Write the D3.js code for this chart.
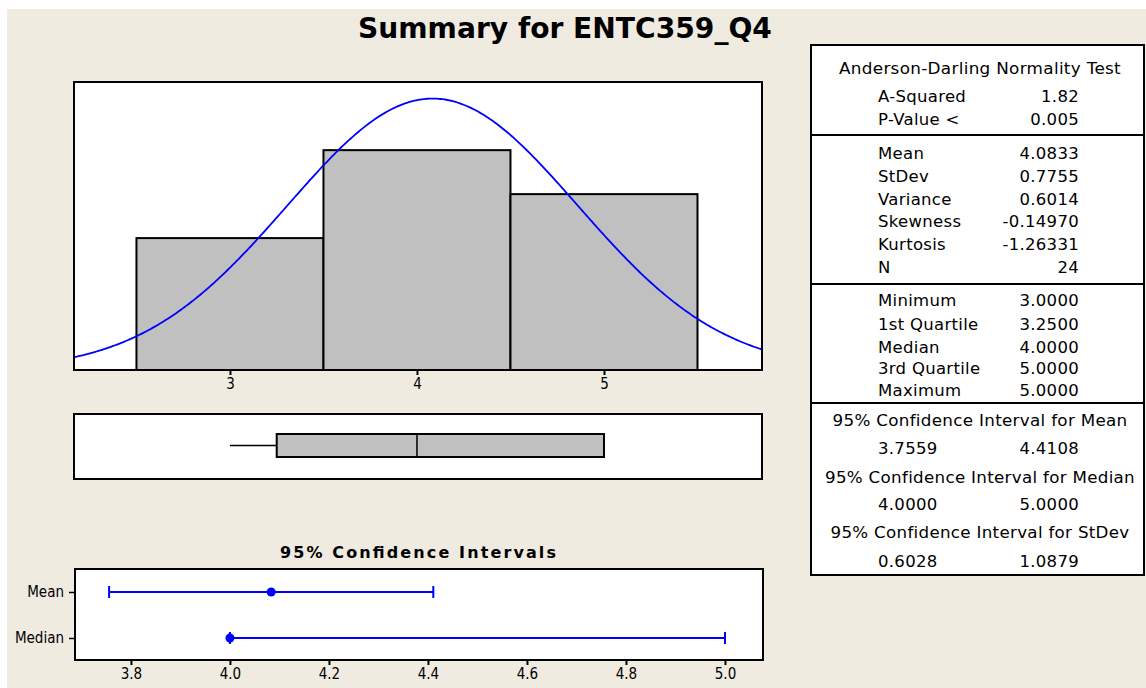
<!DOCTYPE html>
<html>
<head>
<meta charset="utf-8">
<script src="https://cdn.jsdelivr.net/npm/d3@7"></script>
<style>
  body { margin: 0; background: #fff; }
  svg { display: block; }
</style>
</head>
<body>
<div id="chart"></div>
<script>
// histogram data (bin centres, counts)
const binMids = [3, 4, 5];
const binCounts = [6, 10, 8];
const sampleMean = 4.0833;
const sampleStDev = 0.7755;
const sampleN = 24;
// boxplot: min, q1, median, q3, max
const fiveNum = [3.0, 3.25, 4.0, 5.0, 5.0];
const histTicks = [3, 4, 5];
// confidence intervals
const ciNames = ["Mean", "Median"];
const ciLow = [3.7559, 4.0];
const ciHigh = [4.4108, 5.0];
const ciPoint = [4.0833, 4.0];
const ciTicks = [3.8, 4.0, 4.2, 4.4, 4.6, 4.8, 5.0];
// stats table
const adLabels = ["A-Squared", "P-Value <"];
const adValues = ["1.82", "0.005"];
const momentLabels = ["Mean", "StDev", "Variance", "Skewness", "Kurtosis", "N"];
const momentValues = ["4.0833", "0.7755", "0.6014", "-0.14970", "-1.26331", "24"];
const quantLabels = ["Minimum", "1st Quartile", "Median", "3rd Quartile", "Maximum"];
const quantValues = ["3.0000", "3.2500", "4.0000", "5.0000", "5.0000"];
const ciHeaders = ["95% Confidence Interval for Mean", "95% Confidence Interval for Median", "95% Confidence Interval for StDev"];
const ciTableLow = ["3.7559", "4.0000", "0.6028"];
const ciTableHigh = ["4.4108", "5.0000", "1.0879"];

const W = 1146, H = 688;
const bg = "#efebe1";
const grey = "#c0c0c0";
const blue = "#0000ff";
const axisFont = "'DejaVu Sans Condensed', 'DejaVu Sans', sans-serif";
const tableFont = "'DejaVu Sans', Verdana, sans-serif";

let svg = d3.select("#chart").append("svg")
    .attr("width", W)
    .attr("height", H);

svg.append("rect").attr("width", W).attr("height", H).attr("fill", "#fff");
svg.append("rect").attr("x", 7).attr("y", 9).attr("width", W - 7).attr("height", H - 9).attr("fill", bg);

// title
let title = svg.append("text")
    .attr("x", 565)
    .attr("y", 38)
    .attr("text-anchor", "middle")
    .attr("font-family", tableFont)
    .attr("font-weight", "bold")
    .attr("font-size", 26)
    .text("Summary for ENTC359_Q4");
let tw = title.node().getComputedTextLength();
title.attr("font-size", 26 * 414 / tw);

// ---------- histogram ----------
let hist = { left: 74, right: 762, top: 82, bottom: 370 };
let x = d3.scaleLinear()
    .domain([2.166, 5.845])
    .range([hist.left, hist.right]);
let y = d3.scaleLinear()
    .domain([0, 13.1])
    .range([hist.bottom, hist.top]);

svg.append("rect")
    .attr("x", hist.left).attr("y", hist.top)
    .attr("width", hist.right - hist.left).attr("height", hist.bottom - hist.top)
    .attr("fill", "#fff");

svg.append("clipPath").attr("id", "histclip")
    .append("rect")
    .attr("x", hist.left).attr("y", hist.top)
    .attr("width", hist.right - hist.left).attr("height", hist.bottom - hist.top);

svg.append("g").selectAll("rect")
    .data(binMids)
    .join("rect")
    .attr("x", d => x(d - 0.5))
    .attr("y", (d, i) => y(binCounts[i]))
    .attr("width", d => x(d + 0.5) - x(d - 0.5))
    .attr("height", (d, i) => y(0) - y(binCounts[i]))
    .attr("fill", grey)
    .attr("stroke", "#000")
    .attr("stroke-width", 2);

// fitted normal curve (scaled to counts)
let binWidth = 1;
let curveX = d3.range(x.domain()[0], x.domain()[1] + 0.01, 0.01);
let normal = v => sampleN * binWidth / (sampleStDev * Math.sqrt(2 * Math.PI)) *
    Math.exp(-0.5 * Math.pow((v - sampleMean) / sampleStDev, 2));
let line = d3.line()
    .x(d => x(d))
    .y(d => y(normal(d)));
svg.append("path")
    .datum(curveX)
    .attr("clip-path", "url(#histclip)")
    .attr("fill", "none")
    .attr("stroke", blue)
    .attr("stroke-width", 1.8)
    .attr("d", line);

svg.append("rect")
    .attr("x", hist.left).attr("y", hist.top)
    .attr("width", hist.right - hist.left).attr("height", hist.bottom - hist.top)
    .attr("fill", "none")
    .attr("stroke", "#000")
    .attr("stroke-width", 2);

let xAxis = svg.append("g")
    .attr("transform", `translate(0, ${hist.bottom})`)
    .call(d3.axisBottom(x).tickValues(histTicks).tickSize(5).tickPadding(3).tickFormat(d3.format("d")));
xAxis.select(".domain").remove();
xAxis.selectAll("line").attr("stroke", "#000").attr("stroke-width", 2);
xAxis.selectAll("text").style("font-family", axisFont).style("font-size", "15px").attr("fill", "#000");

// ---------- boxplot ----------
let bp = { top: 414, bottom: 479, boxTop: 434, boxBottom: 457 };
let bpMid = (bp.boxTop + bp.boxBottom) / 2;
svg.append("rect")
    .attr("x", hist.left).attr("y", bp.top)
    .attr("width", hist.right - hist.left).attr("height", bp.bottom - bp.top)
    .attr("fill", "#fff")
    .attr("stroke", "#000")
    .attr("stroke-width", 2);

// whiskers
svg.append("line")
    .attr("x1", x(fiveNum[0])).attr("x2", x(fiveNum[1]))
    .attr("y1", bpMid).attr("y2", bpMid)
    .attr("stroke", "#000").attr("stroke-width", 1.5);
svg.append("line")
    .attr("x1", x(fiveNum[3])).attr("x2", x(fiveNum[4]))
    .attr("y1", bpMid).attr("y2", bpMid)
    .attr("stroke", "#000").attr("stroke-width", 1.5);
svg.append("rect")
    .attr("x", x(fiveNum[1])).attr("y", bp.boxTop)
    .attr("width", x(fiveNum[3]) - x(fiveNum[1]))
    .attr("height", bp.boxBottom - bp.boxTop)
    .attr("fill", grey)
    .attr("stroke", "#000")
    .attr("stroke-width", 2);
svg.append("line")
    .attr("x1", x(fiveNum[2])).attr("x2", x(fiveNum[2]))
    .attr("y1", bp.boxTop).attr("y2", bp.boxBottom)
    .attr("stroke", "#000").attr("stroke-width", 1.5);

// ---------- confidence intervals ----------
let ci = { left: 75, right: 763, top: 569, bottom: 660 };
let cx = d3.scaleLinear()
    .domain([3.687, 5.0768])
    .range([ci.left, ci.right]);
let cy = d3.scalePoint()
    .domain(ciNames)
    .range([592, 638]);

svg.append("text")
    .attr("x", 418)
    .attr("y", 558)
    .attr("text-anchor", "middle")
    .attr("font-family", tableFont)
    .attr("font-weight", "bold")
    .attr("font-size", 16)
    .attr("textLength", 276)
    .attr("lengthAdjust", "spacing")
    .text("95% Confidence Intervals");

svg.append("rect")
    .attr("x", ci.left).attr("y", ci.top)
    .attr("width", ci.right - ci.left).attr("height", ci.bottom - ci.top)
    .attr("fill", "#fff")
    .attr("stroke", "#000")
    .attr("stroke-width", 2);

let ciRows = svg.append("g").selectAll("g")
    .data(ciNames)
    .join("g");
ciRows.append("line")
    .attr("x1", (d, i) => cx(ciLow[i]))
    .attr("x2", (d, i) => cx(ciHigh[i]))
    .attr("y1", d => cy(d)).attr("y2", d => cy(d))
    .attr("stroke", blue).attr("stroke-width", 2);
ciRows.append("line")
    .attr("x1", (d, i) => cx(ciLow[i])).attr("x2", (d, i) => cx(ciLow[i]))
    .attr("y1", d => cy(d) - 6).attr("y2", d => cy(d) + 6)
    .attr("stroke", blue).attr("stroke-width", 2);
ciRows.append("line")
    .attr("x1", (d, i) => cx(ciHigh[i])).attr("x2", (d, i) => cx(ciHigh[i]))
    .attr("y1", d => cy(d) - 6).attr("y2", d => cy(d) + 6)
    .attr("stroke", blue).attr("stroke-width", 2);
ciRows.append("circle")
    .attr("cx", (d, i) => cx(ciPoint[i]))
    .attr("cy", d => cy(d))
    .attr("r", 4.5)
    .attr("fill", blue);

let ciLeftAxis = svg.append("g")
    .attr("transform", `translate(${ci.left}, 0)`)
    .call(d3.axisLeft(cy).tickSize(6).tickPadding(5));
ciLeftAxis.select(".domain").remove();
ciLeftAxis.selectAll("line").attr("stroke", "#000").attr("stroke-width", 1.5);
ciLeftAxis.selectAll("text").style("font-family", axisFont).style("font-size", "15px").attr("fill", "#000");

let ciBottomAxis = svg.append("g")
    .attr("transform", `translate(0, ${ci.bottom})`)
    .call(d3.axisBottom(cx).tickValues(ciTicks).tickSize(5).tickPadding(3).tickFormat(d3.format(".1f")));
ciBottomAxis.select(".domain").remove();
ciBottomAxis.selectAll("line").attr("stroke", "#000").attr("stroke-width", 2);
ciBottomAxis.selectAll("text").style("font-family", axisFont).style("font-size", "15px").attr("fill", "#000");

// ---------- stats table ----------
let tb = { left: 811, right: 1144, top: 45, bottom: 575, cx: 980, labelX: 878, valueX: 1079 };
svg.append("rect")
    .attr("x", tb.left).attr("y", tb.top)
    .attr("width", tb.right - tb.left).attr("height", tb.bottom - tb.top)
    .attr("fill", "#fff")
    .attr("stroke", "#000")
    .attr("stroke-width", 2);
[135, 284, 403].forEach(yy => {
    svg.append("line")
        .attr("x1", tb.left).attr("x2", tb.right)
        .attr("y1", yy).attr("y2", yy)
        .attr("stroke", "#000").attr("stroke-width", 2);
});

let table = svg.append("g")
    .attr("font-family", tableFont)
    .attr("font-size", 16.5)
    .attr("letter-spacing", 0.3)
    .attr("fill", "#000");

function textRow(txt, xx, yy, anchor) {
    return table.append("text")
        .attr("x", xx)
        .attr("y", yy + 6)
        .attr("text-anchor", anchor)
        .text(txt);
}

function fitRow(t, len) {
    t.attr("textLength", len).attr("lengthAdjust", "spacingAndGlyphs");
}

fitRow(textRow("Anderson-Darling Normality Test", tb.cx, 68, "middle"), 282);

let adY = [96, 119];
adLabels.forEach((l, i) => {
    textRow(l, tb.labelX, adY[i], "start");
    textRow(adValues[i], tb.valueX, adY[i], "end");
});

let momentY = [153, 176, 199, 221, 244, 267];
momentLabels.forEach((l, i) => {
    textRow(l, tb.labelX, momentY[i], "start");
    textRow(momentValues[i], tb.valueX, momentY[i], "end");
});

let quantY = [300, 324, 347, 368, 390];
quantLabels.forEach((l, i) => {
    textRow(l, tb.labelX, quantY[i], "start");
    textRow(quantValues[i], tb.valueX, quantY[i], "end");
});

let ciHeadY = [420, 477, 532];
let ciValY = [448, 504, 561];
let ciHeadLen = [295, 310, 299];
ciHeaders.forEach((h, i) => {
    fitRow(textRow(h, tb.cx, ciHeadY[i], "middle"), ciHeadLen[i]);
    textRow(ciTableLow[i], tb.labelX, ciValY[i], "start");
    textRow(ciTableHigh[i], tb.valueX, ciValY[i], "end");
});
</script>
</body>
</html>
